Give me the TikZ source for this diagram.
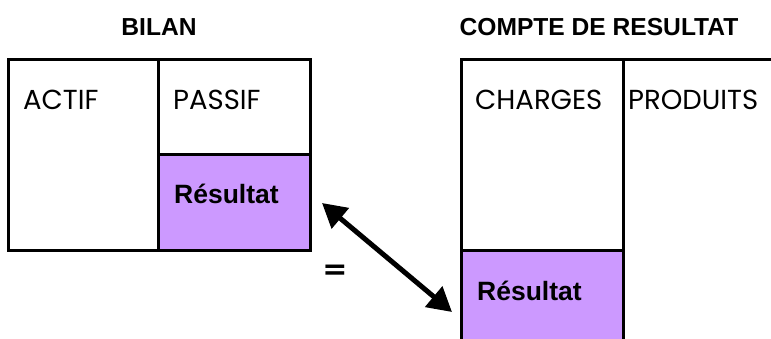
\documentclass[tikz,border=0pt]{standalone}
\usepackage{fontspec}
\setmainfont{Poppins}
\newfontfamily\boldf{Liberation Sans}[UprightFont=* Bold]
\newfontfamily\eqf{DejaVu Sans}[UprightFont=* Bold]
\usetikzlibrary{arrows.meta}
\definecolor{resfill}{RGB}{204,153,255}
\begin{document}
\begin{tikzpicture}[x=1pt,y=-1pt,
  box/.style={draw=black, line width=3pt},
  lab/.style={anchor=base west, inner sep=0pt, font=\fontsize{27.5}{27.5}\selectfont},
  blab/.style={anchor=base west, inner sep=0pt, font=\boldf\fontsize{26.5}{26.5}\selectfont},
  title/.style={anchor=base, inner sep=0pt, font=\boldf\fontsize{24.6}{24.6}\selectfont},
  biarrow/.style={line width=5pt, {Triangle[length=24pt,width=26pt]}-{Triangle[length=24pt,width=26pt]}}]
\useasboundingbox (0,0) rectangle (771,339);
\clip (0,0) rectangle (771,339);
% Bilan
\fill[resfill] (158,155) rectangle (310,250);
\draw[box] (8,60) rectangle (310,250);
\draw[box] (158,60) -- (158,250);
\draw[box] (158,155) -- (310,155);
% Compte de resultat
\fill[resfill] (461,250) rectangle (623,345);
\draw[box] (780,60) -- (461,60) -- (461,345);
\draw[box] (623,60) -- (623,345);
\draw[box] (461,250) -- (623,250);
% titles
\node[title] (bilan) at (159,36) {BILAN};
\node[title] (cr) at (599,36) {COMPTE DE RESULTAT};
% labels
\node[lab] (actif) at (23,110) {ACTIF};
\node[lab] (passif) at (173,110) {PASSIF};
\node[blab] (res1) at (174,204) {Résultat};
\node[lab] (charges) at (475,110) {CHARGES};
\node[lab] (produits) at (628,110) {PRODUITS};
\node[blab] (res2) at (477,300) {Résultat};
\node[inner sep=0pt, font=\eqf\fontsize{30}{30}\selectfont] (eq) at (335,272) {=};
% arrow
\coordinate (a1) at (322,203);
\coordinate (a2) at (452,312);
\draw[biarrow] (a1) -- (a2);
\end{tikzpicture}
\end{document}
